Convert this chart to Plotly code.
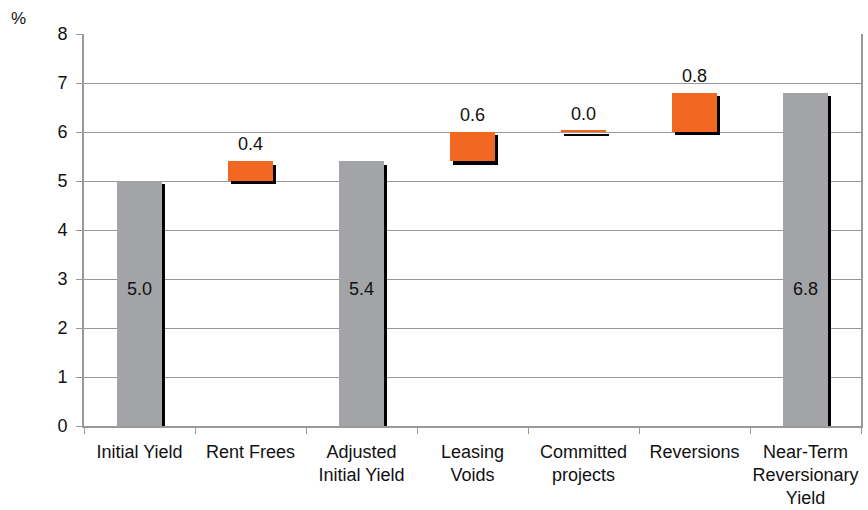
import plotly.graph_objects as go

categories = ["Initial Yield", "Rent Frees", "Adjusted<br>Initial Yield", "Leasing<br>Voids",
              "Committed<br>projects", "Reversions", "Near-Term<br>Reversionary<br>Yield"]
bases = [0.0, 5.0, 0.0, 5.4, 6.0, 6.0, 0.0]
heights = [5.0, 0.4, 5.4, 0.6, 0.03, 0.8, 6.8]
labels = ["5.0", "0.4", "5.4", "0.6", "0.0", "0.8", "6.8"]
is_total = [True, False, True, False, False, False, True]

GREY = "#A3A4A8"
ORANGE = "#F26822"
FONT = "Liberation Sans, Arial, sans-serif"
FS = 18

BAR_W = 0.405
DX = 0.03   # shadow shift in category units
DY = 0.065  # shadow shift in y units

fig = go.Figure()
# shadow
fig.add_trace(go.Bar(
    x=categories, y=heights, base=[b - DY for b in bases],
    width=BAR_W, offset=-BAR_W / 2 + DX,
    marker=dict(color="black", line=dict(width=0)),
    hoverinfo="skip", showlegend=False,
))
# main bars
fig.add_trace(go.Bar(
    x=categories, y=heights, base=bases,
    width=BAR_W, offset=-BAR_W / 2,
    marker=dict(color=[GREY if t else ORANGE for t in is_total], line=dict(width=0)),
    showlegend=False,
))

annotations = []
for c, b, h, lab, t in zip(categories, bases, heights, labels, is_total):
    if t:
        annotations.append(dict(x=c, y=2.8, text=lab, showarrow=False,
                                font=dict(family=FONT, size=FS, color="#111111"),
                                xanchor="center", yanchor="middle"))
    else:
        annotations.append(dict(x=c, y=b + h, text=lab, showarrow=False,
                                font=dict(family=FONT, size=FS, color="#111111"),
                                xanchor="center", yanchor="bottom", yshift=5))
annotations.append(dict(xref="paper", yref="paper", x=-0.097, y=1.0, yshift=16,
                        text="%", showarrow=False, xanchor="left", yanchor="middle",
                        font=dict(family=FONT, size=17, color="#111111")))

fig.update_layout(
    width=868, height=510,
    margin=dict(l=84, r=7, t=34, b=84, autoexpand=False),
    paper_bgcolor="white", plot_bgcolor="white",
    barmode="overlay",
    bargap=0,
    font=dict(family=FONT, size=FS, color="#111111"),
    annotations=annotations,
    xaxis=dict(
        type="category", tickson="boundaries", ticks="outside", ticklen=6,
        tickcolor="#999999", showline=True, linecolor="#999999", linewidth=2,
        showgrid=False, tickfont=dict(family=FONT, size=FS, color="#111111"),
        ticklabelstandoff=8, tickangle=0, automargin=False,
    ),
    yaxis=dict(
        range=[0, 8], dtick=1, ticks="outside", ticklen=6, tickcolor="#999999",
        showline=True, linecolor="#999999", linewidth=2, mirror=True,
        showgrid=True, gridcolor="#999999", gridwidth=1,
        zeroline=False, tickfont=dict(family=FONT, size=FS, color="#111111"),
        ticklabelstandoff=5, automargin=False,
    ),
)

fig.write_html("out.html")
